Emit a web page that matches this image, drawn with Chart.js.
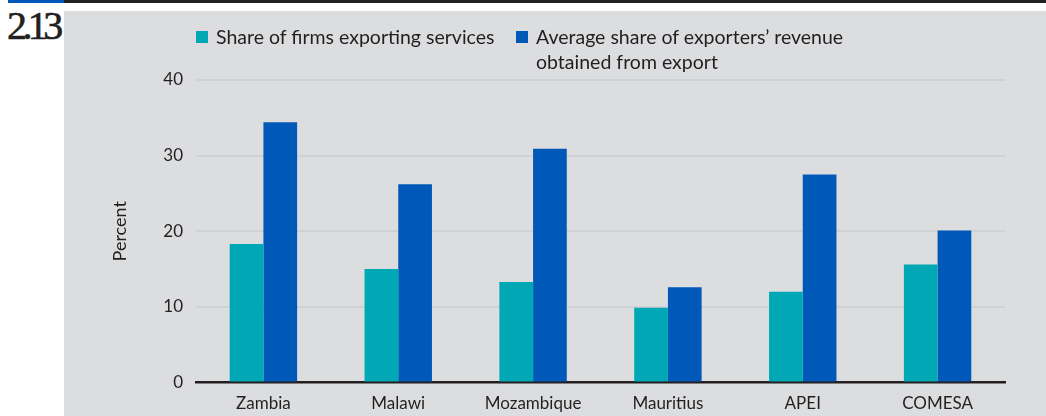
<!DOCTYPE html>
<html>
<head>
<meta charset="utf-8">
<script src="https://cdn.jsdelivr.net/npm/chart.js@4"></script>
<style>
  html, body { margin: 0; padding: 0; background: #fff; }
  #page { position: relative; width: 1046px; height: 416px; overflow: hidden; font-family: Lato, 'Open Sans', sans-serif; color: #231f20; }
  #topBlue { position: absolute; left: 8px; top: 0; width: 56px; height: 3px; background: #0057b8; }
  #topDark { position: absolute; left: 64px; top: 0; right: 0; height: 3px; background: #231f20; }
  #panel { position: absolute; left: 64px; top: 11px; right: 0; bottom: 0; background: #dcdddf; }
  #figNo { position: absolute; left: 7px; top: 2px; font-family: 'Liberation Serif', 'DejaVu Serif', serif; font-size: 40px; letter-spacing: -4.6px; color: #231f20; -webkit-text-stroke: 0.6px #231f20; }
  #legend { position: absolute; left: 0; top: 0; }
  .item { position: absolute; font-size: 19.5px; line-height: 25px; white-space: nowrap; }
  .box { position: absolute; width: 12px; height: 12px; top: 7px; }
  canvas { position: absolute; left: 0; top: 0; }
</style>
</head>
<body>
<div id="page">
  <div id="topBlue"></div>
  <div id="topDark"></div>
  <div id="panel"></div>
  <div id="figNo">2.13</div>
  <canvas id="chart" width="1046" height="416"></canvas>
  <div id="legend"></div>
</div>
<script>
// Service exports by region, percent
const categories = ['Zambia', 'Malawi', 'Mozambique', 'Mauritius', 'APEI', 'COMESA'];
const firmsExporting = [18.3, 15.0, 13.3, 9.9, 12.0, 15.6];
const revenueShare = [34.4, 26.2, 30.9, 12.6, 27.5, 20.1];
const seriesLabels = [
  ['Share of firms exporting services'],
  ['Average share of exporters\u2019 revenue', 'obtained from export'],
];
const yTicks = [0, 10, 20, 30, 40];

const teal = '#00a7b5';
const blue = '#0059b9';
const ink = '#231f20';
const gridLight = '#d0d1d3';

const chart = new Chart(document.getElementById('chart'), {
  type: 'bar',
  data: {
    labels: categories,
    datasets: [
      { label: seriesLabels[0].join(' '), data: firmsExporting, backgroundColor: teal },
      { label: seriesLabels[1].join(' '), data: revenueShare, backgroundColor: blue },
    ],
  },
  options: {
    responsive: false,
    animation: false,
    devicePixelRatio: 1,
    layout: { padding: { left: 109, right: 41, top: 80, bottom: 0 } },
    datasets: { bar: { categoryPercentage: 0.5, barPercentage: 1.0 } },
    plugins: { legend: { display: false }, tooltip: { enabled: false } },
    scales: {
      x: {
        grid: { display: false },
        border: { display: true, color: ink, width: 2.5 },
        ticks: { color: ink, padding: 3, font: { family: 'Lato', size: 17 } },
        afterFit: (s) => { s.height = 33.5; },
      },
      y: {
        min: 0,
        max: 40,
        afterBuildTicks: (s) => { s.ticks = yTicks.map(v => ({ value: v })); },
        border: { display: false },
        grid: {
          drawTicks: false,
          lineWidth: 2,
          color: (c) => c.tick && c.tick.value === 0 ? 'rgba(0,0,0,0)' : gridLight,
        },
        ticks: { color: ink, padding: 13, font: { family: 'Lato', size: 17 } },
        title: { display: true, text: 'Percent', color: ink, padding: { top: 0, bottom: 0 }, font: { family: 'Lato', size: 18 } },
        afterFit: (s) => { s.width = 87; },
      },
    },
  },
});

// Legend built from the datasets, with wrapped labels
const legendPos = [{ box: 196, text: 216 }, { box: 516, text: 536 }];
const legendEl = document.getElementById('legend');
chart.data.datasets.forEach((ds, i) => {
  const item = document.createElement('div');
  item.className = 'item';
  item.style.left = legendPos[i].box + 'px';
  item.style.top = '24px';
  const box = document.createElement('span');
  box.className = 'box';
  box.style.background = ds.backgroundColor;
  item.appendChild(box);
  const txt = document.createElement('div');
  txt.style.marginLeft = (legendPos[i].text - legendPos[i].box) + 'px';
  txt.innerHTML = seriesLabels[i].join('<br>');
  item.appendChild(txt);
  legendEl.appendChild(item);
});
</script>
</body>
</html>
